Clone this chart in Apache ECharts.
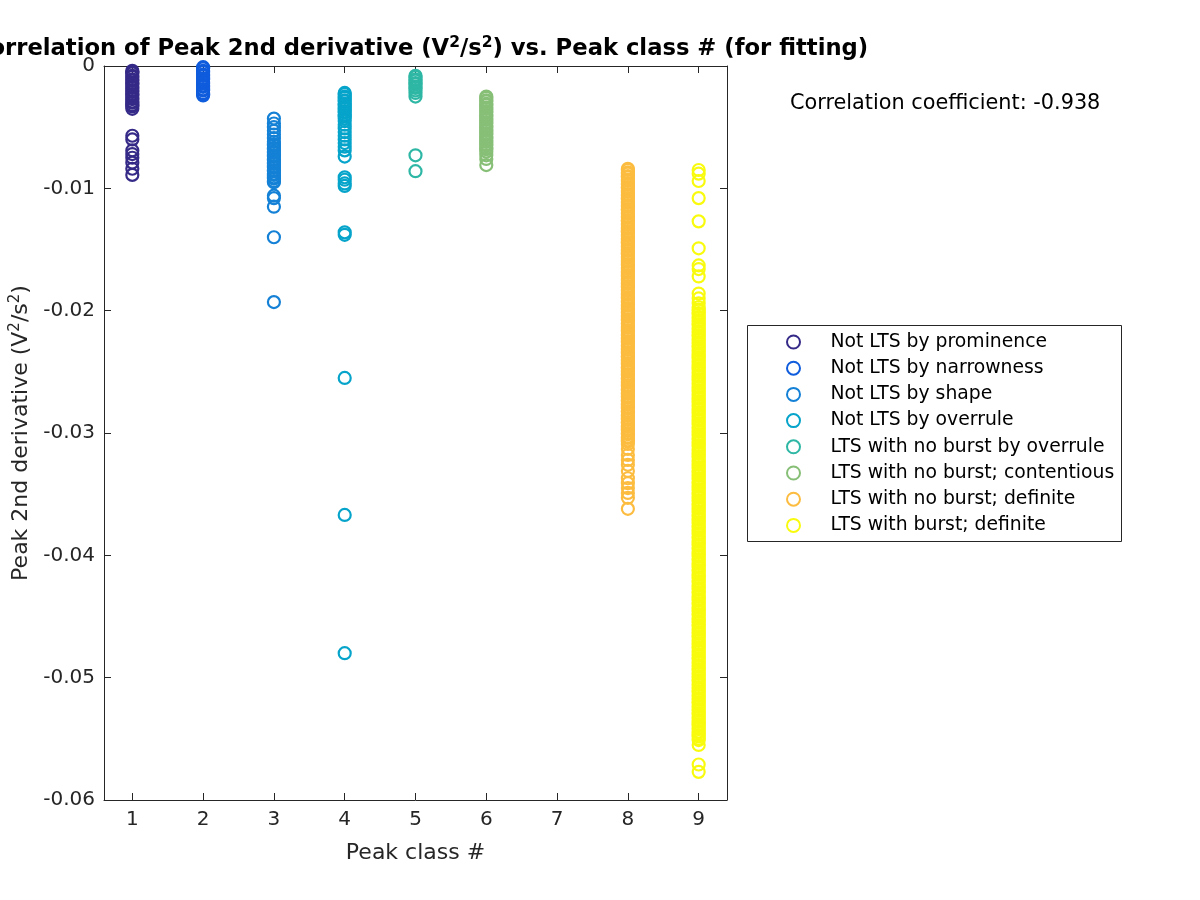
<!DOCTYPE html>
<html>
<head>
<meta charset="utf-8">
<script src="https://cdn.jsdelivr.net/npm/echarts@6/dist/echarts.min.js"></script>
<style>html,body{margin:0;padding:0;background:#fff}#c{width:1200px;height:900px}</style>
</head>
<body>
<div id="c"></div>
<script>
const classLabels = ['Not LTS by prominence','Not LTS by narrowness','Not LTS by shape','Not LTS by overrule','LTS with no burst by overrule','LTS with no burst; contentious','LTS with no burst; definite','LTS with burst; definite'];
const classNumbers = [1, 2, 3, 4, 5, 6, 8, 9];
const classColors = ['#352a87','#0f5cdd','#1481d6','#06a4ca','#2eb7a4','#87bf77','#fcbc3f','#f9fb0e'];
const xTicks = [1,2,3,4,5,6,7,8,9];

const class1 = [-0.0004,-0.0005,-0.0006,-0.0008,-0.0009,-0.0011,-0.0012,-0.0014,-0.0015,-0.0017,-0.0018,-0.0020,-0.0021,-0.0023,-0.0024,-0.0026,-0.0027,-0.0029,-0.0030,-0.0032,-0.0033,-0.0035,
  -0.0057,-0.0060,-0.0069,-0.0072,-0.0075,-0.0079,-0.0084,-0.0089];
const class2 = [-0.0001,-0.0002,-0.0004,-0.0005,-0.0007,-0.0008,-0.0010,-0.0011,-0.0013,-0.0014,-0.0016,-0.0017,-0.0019,-0.0020,-0.0022,-0.0023,-0.0024];
const class3 = [-0.0043,-0.0047,-0.0050,-0.0053,-0.0056,-0.0059,-0.0062,-0.0064,-0.0065,-0.0067,-0.0068,-0.0070,-0.0071,-0.0073,-0.0074,-0.0076,-0.0077,-0.0079,-0.0080,-0.0082,-0.0083,-0.0085,-0.0086,-0.0088,-0.0089,-0.0091,-0.0092,-0.0094,-0.0095,
  -0.0106,-0.0108,-0.0115,-0.0140,-0.0193];
const class4 = [-0.0022,-0.0023,-0.0025,-0.0026,-0.0028,-0.0029,-0.0031,-0.0032,-0.0034,-0.0035,-0.0037,-0.0038,-0.0040,-0.0041,-0.0043,-0.0045,-0.0048,-0.0051,-0.0054,-0.0057,-0.0060,-0.0063,-0.0066,-0.0069,
  -0.0074,-0.0091,-0.0093,-0.0096,-0.0098,-0.0136,-0.0138,-0.0255,-0.0367,-0.0480];
const class5 = [-0.0008,-0.0009,-0.0011,-0.0012,-0.0014,-0.0015,-0.0017,-0.0018,-0.0020,-0.0022,-0.0025,-0.0073,-0.0086];
const class6 = [-0.0025,-0.0026,-0.0028,-0.0029,-0.0031,-0.0032,-0.0034,-0.0035,-0.0037,-0.0038,-0.0040,-0.0041,-0.0043,-0.0044,-0.0046,-0.0047,-0.0049,-0.0050,-0.0052,-0.0053,
  -0.0055,-0.0056,-0.0058,-0.0059,-0.0061,-0.0062,-0.0064,-0.0065,-0.0067,-0.0068,-0.0070,-0.0073,-0.0076,-0.0081];
const class8 = [-0.0084,-0.0085,-0.0087,-0.0088,-0.0090,-0.0091,-0.0093,-0.0094,-0.0096,-0.0097,-0.0099,-0.0100,-0.0102,-0.0103,-0.0105,-0.0106,-0.0108,-0.0109,-0.0111,-0.0112,
  -0.0114,-0.0115,-0.0117,-0.0118,-0.0120,-0.0121,-0.0123,-0.0124,-0.0126,-0.0127,-0.0129,-0.0130,-0.0132,-0.0133,-0.0135,-0.0136,-0.0138,-0.0139,-0.0141,-0.0142,
  -0.0144,-0.0145,-0.0147,-0.0148,-0.0150,-0.0151,-0.0153,-0.0154,-0.0156,-0.0157,-0.0159,-0.0160,-0.0162,-0.0163,-0.0165,-0.0166,-0.0168,-0.0169,-0.0171,-0.0172,
  -0.0174,-0.0175,-0.0177,-0.0178,-0.0180,-0.0181,-0.0183,-0.0184,-0.0186,-0.0187,-0.0189,-0.0190,-0.0192,-0.0193,-0.0195,-0.0196,-0.0198,-0.0199,-0.0201,-0.0202,
  -0.0204,-0.0205,-0.0207,-0.0208,-0.0210,-0.0211,-0.0213,-0.0214,-0.0216,-0.0217,-0.0219,-0.0220,-0.0222,-0.0223,-0.0225,-0.0226,-0.0228,-0.0229,-0.0231,-0.0232,
  -0.0234,-0.0235,-0.0237,-0.0238,-0.0240,-0.0241,-0.0243,-0.0244,-0.0246,-0.0247,-0.0249,-0.0250,-0.0252,-0.0253,-0.0255,-0.0256,-0.0258,-0.0259,-0.0261,-0.0262,
  -0.0264,-0.0265,-0.0267,-0.0268,-0.0270,-0.0271,-0.0273,-0.0274,-0.0276,-0.0277,-0.0279,-0.0280,-0.0282,-0.0283,-0.0285,-0.0286,-0.0288,-0.0289,-0.0291,-0.0292,
  -0.0294,-0.0295,-0.0297,-0.0298,-0.0300,-0.0301,-0.0303,-0.0304,-0.0306,-0.0307,-0.0309,
  -0.0313,-0.0318,-0.0322,-0.0326,-0.0331,-0.0337,-0.0341,-0.0345,-0.0349,-0.0353,-0.0362];
const class9 = [-0.0085,-0.0088,-0.0094,-0.0108,-0.0127,-0.0149,-0.0163,-0.0166,-0.0172,-0.0186,-0.0190,-0.0194,-0.0197,
  -0.0199,-0.0200,-0.0202,-0.0203,-0.0205,-0.0206,-0.0208,-0.0209,-0.0211,-0.0212,-0.0214,-0.0215,-0.0217,-0.0218,-0.0220,-0.0221,-0.0223,-0.0224,-0.0226,-0.0227,
  -0.0229,-0.0230,-0.0232,-0.0233,-0.0235,-0.0236,-0.0238,-0.0239,-0.0241,-0.0242,-0.0244,-0.0245,-0.0247,-0.0248,-0.0250,-0.0251,-0.0253,-0.0254,-0.0256,-0.0257,
  -0.0259,-0.0260,-0.0262,-0.0263,-0.0265,-0.0266,-0.0268,-0.0269,-0.0271,-0.0272,-0.0274,-0.0275,-0.0277,-0.0278,-0.0280,-0.0281,-0.0283,-0.0284,-0.0286,-0.0287,
  -0.0289,-0.0290,-0.0292,-0.0293,-0.0295,-0.0296,-0.0298,-0.0299,-0.0301,-0.0302,-0.0304,-0.0305,-0.0307,-0.0308,-0.0310,-0.0311,-0.0313,-0.0314,-0.0316,-0.0317,
  -0.0319,-0.0320,-0.0322,-0.0323,-0.0325,-0.0326,-0.0328,-0.0329,-0.0331,-0.0332,-0.0334,-0.0335,-0.0337,-0.0338,-0.0340,-0.0341,-0.0343,-0.0344,-0.0346,-0.0347,
  -0.0349,-0.0350,-0.0352,-0.0353,-0.0355,-0.0356,-0.0358,-0.0359,-0.0361,-0.0362,-0.0364,-0.0365,-0.0367,-0.0368,-0.0370,-0.0371,-0.0373,-0.0374,-0.0376,-0.0377,
  -0.0379,-0.0380,-0.0382,-0.0383,-0.0385,-0.0386,-0.0388,-0.0389,-0.0391,-0.0392,-0.0394,-0.0395,-0.0397,-0.0398,-0.0400,-0.0401,-0.0403,-0.0404,-0.0406,-0.0407,
  -0.0409,-0.0410,-0.0412,-0.0413,-0.0415,-0.0416,-0.0418,-0.0419,-0.0421,-0.0422,-0.0424,-0.0425,-0.0427,-0.0428,-0.0430,-0.0431,-0.0433,-0.0434,-0.0436,-0.0437,
  -0.0439,-0.0440,-0.0442,-0.0443,-0.0445,-0.0446,-0.0448,-0.0449,-0.0451,-0.0452,-0.0454,-0.0455,-0.0457,-0.0458,-0.0460,-0.0461,-0.0463,-0.0464,-0.0466,-0.0467,
  -0.0469,-0.0470,-0.0472,-0.0473,-0.0475,-0.0476,-0.0478,-0.0479,-0.0481,-0.0482,-0.0484,-0.0485,-0.0487,-0.0488,-0.0490,-0.0491,-0.0493,-0.0494,-0.0496,-0.0497,
  -0.0499,-0.0500,-0.0502,-0.0503,-0.0505,-0.0506,-0.0508,-0.0509,-0.0511,-0.0512,-0.0514,-0.0515,-0.0517,-0.0518,-0.0520,-0.0521,-0.0523,-0.0524,-0.0526,-0.0527,
  -0.0529,-0.0530,-0.0532,-0.0533,-0.0535,-0.0536,-0.0538,-0.0539,-0.0541,-0.0542,-0.0544,-0.0545,-0.0547,-0.0548,-0.0550,-0.0551,
  -0.0555,-0.0571,-0.0577];
const classValues = [class1, class2, class3, class4, class5, class6, class8, class9];
const corrText = 'Correlation coefficient: -0.938';

const FONT = 'DejaVu Sans';
const TXT = '#262626';
const chart = echarts.init(document.getElementById('c'), null, {renderer: 'canvas'});

const series = classLabels.map((name, i) => ({
  name: name,
  type: 'scatter',
  symbol: 'circle',
  symbolSize: 12,
  clip: false,
  silent: true,
  itemStyle: {color: 'rgba(255,255,255,0)', borderColor: classColors[i], borderWidth: 2.2, opacity: 1},
  emphasis: {disabled: true},
  data: classValues[i].map(v => [classNumbers[i], v])
}));

const axisBase = {
  axisLine: {show: true, onZero: false, lineStyle: {color: TXT, width: 1}},
  axisTick: {show: true, inside: true, length: 7, lineStyle: {color: TXT, width: 1}},
  splitLine: {show: false}
};

chart.setOption({
  animation: false,
  backgroundColor: '#fff',
  textStyle: {fontFamily: FONT},
  title: {
    text: 'Correlation of Peak 2nd derivative (V{sup|2}/s{sup|2}) vs. Peak class # (for fitting)',
    left: 415.5, top: 30, textAlign: 'center',
    textStyle: {
      fontFamily: FONT, fontSize: 22.7, fontWeight: 'bold', color: '#000',
      rich: {sup: {fontFamily: FONT, fontSize: 15.5, fontWeight: 'bold', color: '#000', padding: [0, 0, 12, 0]}}
    }
  },
  grid: {left: 104, top: 66, width: 623, height: 734, containLabel: false, outerBoundsMode: 'none'},
  legend: {
    orient: 'vertical', left: 786, top: 332.5,
    itemWidth: 64, itemHeight: 13, itemGap: 7.2,
    padding: 0, selectedMode: false,
    textStyle: {fontFamily: FONT, fontSize: 18.8, color: '#000'},
    data: classLabels
  },
  xAxis: [
    Object.assign({}, axisBase, {
      type: 'value', min: 0.6, max: 9.4, position: 'bottom',
      name: 'Peak class #', nameLocation: 'middle', nameGap: 42,
      nameTextStyle: {fontFamily: FONT, fontSize: 22, color: TXT},
      axisTick: Object.assign({}, axisBase.axisTick, {customValues: xTicks}),
      axisLabel: {customValues: xTicks, fontFamily: FONT, fontSize: 20, color: TXT, margin: 10}
    }),
    Object.assign({}, axisBase, {
      type: 'value', min: 0.6, max: 9.4, position: 'top',
      axisTick: Object.assign({}, axisBase.axisTick, {customValues: xTicks}),
      axisLabel: {show: false, customValues: xTicks}
    })
  ],
  yAxis: [
    Object.assign({}, axisBase, {
      type: 'value', min: -0.06, max: 0, interval: 0.01, position: 'left',
      name: 'Peak 2nd derivative (V{sup|2}/s{sup|2})', nameLocation: 'middle', nameGap: 66, nameRotate: 90,
      nameTextStyle: {fontFamily: FONT, fontSize: 22, color: TXT,
        rich: {sup: {fontFamily: FONT, fontSize: 15, color: TXT, padding: [0, 0, 12, 0]}}},
      axisLabel: {fontFamily: FONT, fontSize: 20, color: TXT, margin: 9}
    }),
    Object.assign({}, axisBase, {
      type: 'value', min: -0.06, max: 0, interval: 0.01, position: 'right',
      axisLabel: {show: false}
    })
  ],
  graphic: [
    {type: 'rect', shape: {x: 747.5, y: 325.5, width: 374, height: 216}, style: {fill: 'none', stroke: TXT, lineWidth: 1}, silent: true},
    {type: 'text', x: 790, y: 104, style: {text: corrText, font: '20.8px "DejaVu Sans"', fill: '#000', textVerticalAlign: 'middle', textAlign: 'left'}, silent: true}
  ],
  series: series
});
</script>
</body>
</html>
